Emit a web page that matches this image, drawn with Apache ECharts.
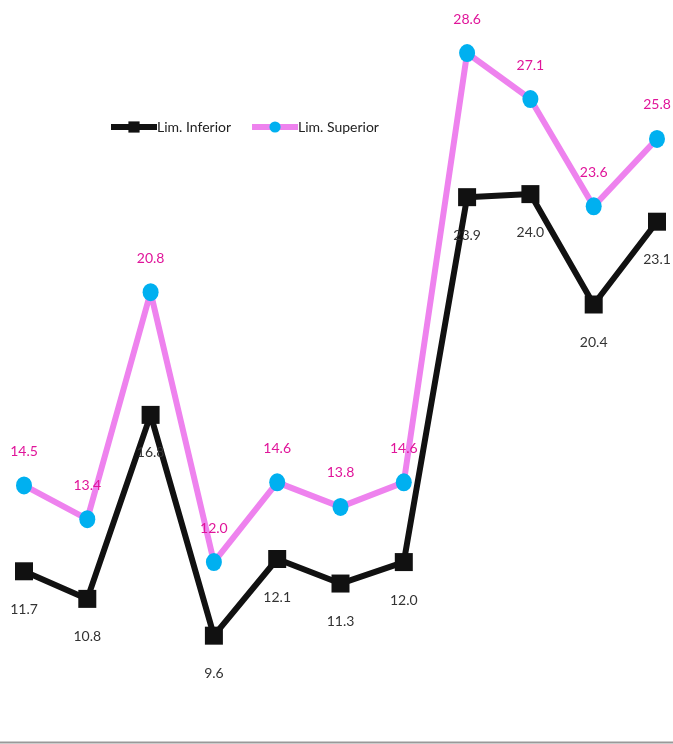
<!DOCTYPE html>
<html><head><meta charset="utf-8">
<script src="https://cdn.jsdelivr.net/npm/echarts@6/dist/echarts.min.js"></script>
<style>html,body{margin:0;padding:0;background:#fff}#c{width:673px;height:744px}</style>
</head><body><div id="c"></div>
<script>
const categories = ['1','2','3','4','5','6','7','8','9','10','11'];
const limInferior = [11.7, 10.8, 16.8, 9.6, 12.1, 11.3, 12.0, 23.9, 24.0, 20.4, 23.1];
const limSuperior = [14.5, 13.4, 20.8, 12.0, 14.6, 13.8, 14.6, 28.6, 27.1, 23.6, 25.8];
const seriesNames = ['Lim. Inferior', 'Lim. Superior'];
const FONT = "Lato, 'Liberation Sans Narrow', sans-serif";
const chart = echarts.init(document.getElementById('c'), null, {renderer:'canvas'});
chart.setOption({
  animation:false,
  backgroundColor:'#fff',
  grid:{left:24, right:16, top:0, bottom:1, containLabel:false},
  graphic:[{type:'line', shape:{x1:0, y1:742.5, x2:673, y2:742.5}, style:{stroke:'#999', lineWidth:2}, z:0}],
  legend:{
    left:103, top:115, itemWidth:46, itemHeight:14, itemGap:18,
    textStyle:{fontFamily:FONT, fontSize:14, color:'#222', padding:[0,0,0,-5]},
    data:[
      {name:seriesNames[0], lineStyle:{width:6}},
      {name:seriesNames[1], lineStyle:{width:6}}
    ]
  },
  xAxis:{type:'category', data:categories, boundaryGap:false,
    axisLine:{show:false}, axisTick:{show:false}, axisLabel:{show:false}, splitLine:{show:false}},
  yAxis:{type:'value', min:6.1, max:30.33, show:false, splitLine:{show:false}},
  series:[
    {name:seriesNames[0], type:'line', data:limInferior,
     symbol:'rect', symbolSize:18, showAllSymbol:true,
     lineStyle:{color:'#111', width:6}, itemStyle:{color:'#111'},
     label:{show:true, position:'bottom', distance:22, formatter:p=>p.value.toFixed(1),
       fontFamily:FONT, fontSize:14, color:'#333'}},
    {name:seriesNames[1], type:'line', data:limSuperior,
     symbol:'circle', symbolSize:[16,18], showAllSymbol:true,
     lineStyle:{color:'#ee82ee', width:6}, itemStyle:{color:'#00b0f0'},
     label:{show:true, position:'top', distance:18, formatter:p=>p.value.toFixed(1),
       fontFamily:FONT, fontSize:14, color:'#e0159a'}}
  ]
});
</script></body></html>
